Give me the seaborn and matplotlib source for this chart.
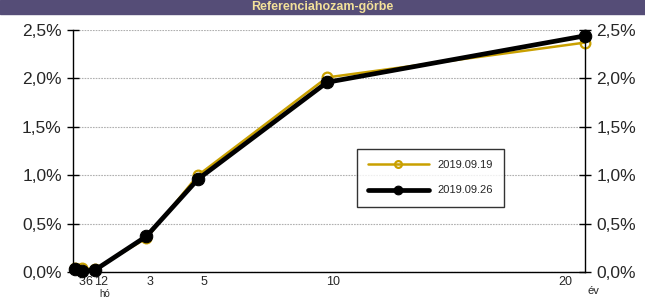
import numpy as np
import pandas as pd
import seaborn as sns
import matplotlib.pyplot as plt
from matplotlib.ticker import FuncFormatter
from matplotlib.transforms import offset_copy

# tenors in years (3, 6, 12 months, then 3, 5, 10, 20 years)
tenors = [0.25, 0.5, 1.0, 3.0, 5.0, 10.0, 20.0]
tick_labels = ["3", "6", "12", "3", "5", "10", "20"]
yield_0919 = [0.04, 0.04, 0.03, 0.35, 1.00, 2.01, 2.37]
yield_0926 = [0.03, 0.01, 0.02, 0.37, 0.96, 1.96, 2.44]
dates = ["2019.09.19", "2019.09.26"]

df = pd.concat([
    pd.DataFrame({"tenor": tenors, "yield": yield_0919, "date": dates[0]}),
    pd.DataFrame({"tenor": tenors, "yield": yield_0926, "date": dates[1]}),
])

sns.set_style("white")
plt.rcParams['font.family'] = ['Liberation Sans', 'DejaVu Sans']

fig = plt.figure(figsize=(6.45, 3.0), dpi=100)
ax = fig.add_axes([0.113, 0.093, 0.794, 0.807])

# banner with title
fig.patches.append(plt.Rectangle((0, 0.955), 1, 0.045, transform=fig.transFigure,
                                 color="#554d77", zorder=0))
fig.text(0.5, 0.977, "Referenciahozam-görbe", ha="center", va="center",
         color="#f3e19a", fontsize=9, fontweight="bold")

d1 = df[df["date"] == dates[0]]
d2 = df[df["date"] == dates[1]]
sns.lineplot(data=d1, x="tenor", y="yield", ax=ax, color="#c9a000", lw=1.8,
             marker="o", markersize=7, markerfacecolor="none",
             markeredgecolor="#c9a000", markeredgewidth=1.6, label=dates[0], clip_on=False)
sns.lineplot(data=d2, x="tenor", y="yield", ax=ax, color="black", lw=3.4,
             marker="o", markersize=9, markeredgecolor="black", label=dates[1],
             clip_on=False, zorder=5)

ax.set_xlim(0.15, 20)
ax.set_ylim(0, 2.5)
ax.set_yticks(np.arange(0, 2.51, 0.5))
fmt = FuncFormatter(lambda v, p: f"{v:.1f}%".replace(".", ","))
ax.yaxis.set_major_formatter(fmt)
ax.yaxis.grid(True, color="#b0b0b0", linestyle=(0, (1.5, 1)), lw=0.8)
ax.tick_params(axis="y", direction="inout", length=8, width=1, color="black",
               labelsize=12.5, left=True, right=True, labelleft=True, labelright=True, pad=4)
ax.set_xticks([])
ax.set_xlabel("")
ax.set_ylabel("")
for s in ["left", "right", "bottom"]:
    ax.spines[s].set_color("black")
    ax.spines[s].set_linewidth(1)
ax.spines["top"].set_visible(False)

# x labels, offset like the original
offsets = [7, 7, 6, 4, 6, 6, -20]
for t, lab, off in zip(tenors, tick_labels, offsets):
    tr = offset_copy(ax.get_xaxis_transform(), fig=fig, x=off, y=-4, units="dots")
    ax.text(t, 0, lab, transform=tr, ha="center", va="top", fontsize=9)
tr = offset_copy(ax.get_xaxis_transform(), fig=fig, x=10, y=-17, units="dots")
ax.text(1.0, 0, "hó", transform=tr, ha="center", va="top", fontsize=7)
tr = offset_copy(ax.get_xaxis_transform(), fig=fig, x=8, y=-14, units="dots")
ax.text(20, 0, "év", transform=tr, ha="center", va="top", fontsize=8)

leg = ax.legend(loc="lower left", bbox_to_anchor=(0.543, 0.248, 0.31, 0.244),
                mode="expand", frameon=True, fancybox=False, edgecolor="black",
                fontsize=8, handlelength=5.5, labelspacing=1.4, borderpad=1.0,
                markerscale=0.7)
leg.get_frame().set_linewidth(1)

fig.savefig("out.png", dpi=100)
